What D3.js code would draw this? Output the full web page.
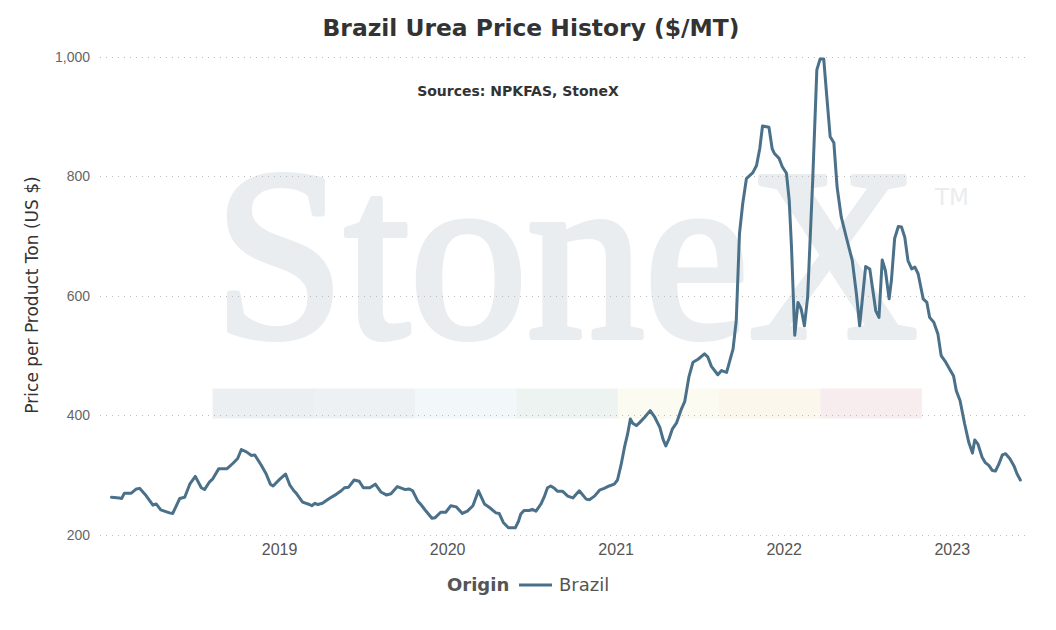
<!DOCTYPE html>
<meta charset="utf-8">
<style>
  body { margin: 0; background: #fff; }
  svg { font-family: "DejaVu Sans", Verdana, sans-serif; }
  .grid line { stroke: #bbb; stroke-dasharray: 1,5; stroke-width: 1; shape-rendering: crispEdges; }
  .grid .domain { display: none; }
  .grid text { fill: #666; font-size: 14px; }
  .xaxis .domain, .xaxis line { display: none; }
  .xaxis text { fill: #555; font-size: 16px; }
  .line { fill: none; stroke: #4a7189; stroke-width: 3px; stroke-linejoin: round; stroke-linecap: round; }
</style>
<body>
<div id="chart"></div>
<script src="https://d3js.org/d3.v7.min.js"></script>
<script>
// weekly Brazil urea price
var dates = [
  "2018-01-02","2018-01-19","2018-01-24","2018-01-30","2018-02-14","2018-02-25","2018-03-04","2018-03-18",
  "2018-04-02","2018-04-09","2018-04-19","2018-05-08","2018-05-15","2018-05-30","2018-06-10","2018-06-21",
  "2018-07-03","2018-07-16","2018-07-23","2018-08-03","2018-08-10","2018-08-23","2018-09-10","2018-09-23",
  "2018-10-03","2018-10-11","2018-10-22","2018-11-02","2018-11-09","2018-11-23","2018-12-04","2018-12-13",
  "2018-12-19","2019-01-02","2019-01-15","2019-01-24","2019-02-02","2019-02-07","2019-02-21","2019-03-08",
  "2019-03-13","2019-03-20","2019-03-26","2019-04-05","2019-04-20","2019-05-05","2019-05-16","2019-05-23",
  "2019-06-01","2019-06-13","2019-06-24","2019-07-03","2019-07-17","2019-07-29","2019-08-10","2019-08-22",
  "2019-09-01","2019-09-15","2019-10-02","2019-10-11","2019-10-18","2019-10-29","2019-11-05","2019-11-16",
  "2019-11-29","2019-12-06","2019-12-18","2019-12-29","2020-01-09","2020-01-21","2020-02-03","2020-02-14",
  "2020-02-26","2020-03-09","2020-03-22","2020-04-02","2020-04-16","2020-04-23","2020-05-02","2020-05-13",
  "2020-05-28","2020-06-04","2020-06-09","2020-06-16","2020-06-27","2020-07-04","2020-07-12","2020-07-23",
  "2020-07-30","2020-08-06","2020-08-13","2020-08-21","2020-08-28","2020-09-08","2020-09-19","2020-09-30",
  "2020-10-14","2020-10-29","2020-11-05","2020-11-16","2020-11-27","2020-12-07","2020-12-18","2020-12-29",
  "2021-01-05","2021-01-13","2021-01-20","2021-01-27","2021-02-02","2021-02-07","2021-02-15","2021-02-22",
  "2021-03-05","2021-03-17","2021-03-27","2021-04-07","2021-04-14","2021-04-20","2021-04-27","2021-05-04",
  "2021-05-13","2021-05-24","2021-05-31","2021-06-09","2021-06-18","2021-06-29","2021-07-13","2021-07-20",
  "2021-07-28","2021-08-11","2021-08-19","2021-08-30","2021-09-09","2021-09-13","2021-09-20","2021-09-27",
  "2021-10-04","2021-10-12","2021-10-26","2021-11-03","2021-11-10","2021-11-16","2021-11-30","2021-12-07",
  "2021-12-12","2021-12-22","2021-12-29","2022-01-07","2022-01-13","2022-01-18","2022-01-25","2022-02-01",
  "2022-02-08","2022-02-15","2022-02-22","2022-03-05","2022-03-14","2022-03-21","2022-03-29","2022-04-05",
  "2022-04-12","2022-04-20","2022-04-27","2022-05-06","2022-05-17","2022-05-30","2022-06-08","2022-06-15",
  "2022-06-28","2022-07-07","2022-07-20","2022-07-27","2022-08-03","2022-08-10","2022-08-18","2022-08-23",
  "2022-08-30","2022-09-07","2022-09-14","2022-09-21","2022-09-28","2022-10-06","2022-10-13","2022-10-20",
  "2022-10-31","2022-11-08","2022-11-14","2022-11-23","2022-12-02","2022-12-09","2022-12-19","2022-12-27",
  "2023-01-05","2023-01-11","2023-01-19","2023-01-29","2023-02-07","2023-02-15","2023-02-20","2023-02-27",
  "2023-03-08","2023-03-15","2023-03-23","2023-03-30","2023-04-06","2023-04-13","2023-04-21","2023-04-28",
  "2023-05-07","2023-05-16","2023-05-23","2023-05-30"
];
var prices = [
  263,262,261,270,270,277,278,266,
  250,252,242,237,236,261,263,285,
  298,279,276,289,294,311,311,320,
  328,343,339,333,334,317,302,285,
  282,293,302,284,274,270,255,251,
  249,253,251,253,261,268,274,279,
  280,292,290,279,279,285,272,267,
  269,281,276,277,274,257,251,240,
  228,229,238,238,249,247,236,240,
  249,274,252,246,237,236,221,212,
  212,223,235,241,241,243,240,252,
  264,279,282,278,273,273,265,262,
  274,260,259,265,275,278,282,285,
  292,318,346,369,394,387,383,388,
  397,408,397,380,360,349,361,377,
  387,411,423,464,489,494,503,498,
  482,468,475,472,500,511,559,704,
  754,796,806,818,846,884,882,846,
  838,830,816,805,760,681,534,589,
  578,550,598,793,978,996,996,930,
  866,856,782,732,698,659,603,550,
  649,645,575,564,660,642,595,626,
  696,716,715,698,659,645,648,637,
  595,589,564,556,536,500,489,478,
  466,441,425,386,355,337,359,352,
  330,321,316,308,307,318,334,336,
  328,316,302,292
];
var yTicks = [200, 400, 600, 800, 1000];
var xTickYears = [2019, 2020, 2021, 2022, 2023];
var seriesName = "Brazil";

var W = 1056, H = 630;
var parse = d3.timeParse("%Y-%m-%d");
var data = dates.map(function(d, i) { return { date: parse(d), value: prices[i] }; });

var x = d3.scaleTime()
    .domain([parse("2017-12-08"), parse("2023-06-20")])
    .range([100, 1030]);
var y = d3.scaleLinear().domain([200, 1000]).range([535, 56.7]);

var svg = d3.select("#chart").append("svg")
    .attr("width", W)
    .attr("height", H);

// StoneX watermark
var wm = "#e9edf0";
var bandColors = ["#eceff2", "#edf1f4", "#f2f7fa", "#edf3f0", "#fbfbf2", "#fbf7ec", "#f8edee"];
svg.append("text")
    .attr("x", 214).attr("y", 337)
    .attr("textLength", 704).attr("lengthAdjust", "spacingAndGlyphs")
    .style("font-family", "'Liberation Serif', 'DejaVu Serif', serif")
    .style("font-size", "244px")
    .style("fill", wm)
    .style("stroke", wm)
    .style("stroke-width", 6)
    .style("stroke-linejoin", "round")
    .text("StoneX");
svg.append("text")
    .attr("x", 935).attr("y", 205)
    .style("font-size", "23px")
    .style("fill", wm)
    .text("TM");
svg.append("g").selectAll("rect")
    .data(bandColors)
    .enter().append("rect")
    .attr("x", function(d, i) { return 212.5 + i * 101.3; })
    .attr("y", 388.5)
    .attr("width", 101.5)
    .attr("height", 30)
    .style("fill", function(d) { return d; });

// gridlines + y labels
svg.append("g")
    .attr("class", "grid")
    .attr("transform", "translate(100,0)")
    .call(d3.axisLeft(y).tickValues(yTicks).tickSize(-930).tickPadding(10).tickFormat(d3.format(",")));

// x axis
svg.append("g")
    .attr("class", "xaxis")
    .attr("transform", "translate(0,535)")
    .call(d3.axisBottom(x)
        .tickValues(xTickYears.map(function(yr) { return new Date(yr, 0, 1); }))
        .tickSize(0).tickPadding(9)
        .tickFormat(d3.timeFormat("%Y")));

// the line
var line = d3.line()
    .x(function(d) { return x(d.date); })
    .y(function(d) { return y(d.value); });
svg.append("path")
    .datum(data)
    .attr("class", "line")
    .attr("d", line);

// titles
svg.append("text")
    .attr("x", 531).attr("y", 36)
    .attr("text-anchor", "middle")
    .style("font-size", "23.4px").style("font-weight", "bold").style("fill", "#333")
    .text("Brazil Urea Price History ($/MT)");
svg.append("text")
    .attr("x", 518).attr("y", 96)
    .attr("text-anchor", "middle")
    .style("font-size", "14px").style("font-weight", "bold").style("fill", "#333")
    .text("Sources: NPKFAS, StoneX");
svg.append("text")
    .attr("transform", "translate(38,295) rotate(-90)")
    .attr("text-anchor", "middle")
    .style("font-size", "17px").style("fill", "#333")
    .text("Price per Product Ton (US $)");

// legend
var lg = svg.append("g").attr("transform", "translate(0,591)");
lg.append("text")
    .attr("x", 447)
    .style("font-size", "18px").style("font-weight", "bold").style("fill", "#555")
    .text("Origin");
lg.append("line")
    .attr("x1", 519).attr("x2", 552).attr("y1", -6).attr("y2", -6)
    .style("stroke", "#4a7189").style("stroke-width", 3);
lg.append("text")
    .attr("x", 559)
    .style("font-size", "18px").style("fill", "#555")
    .text(seriesName);
</script>
</body>
